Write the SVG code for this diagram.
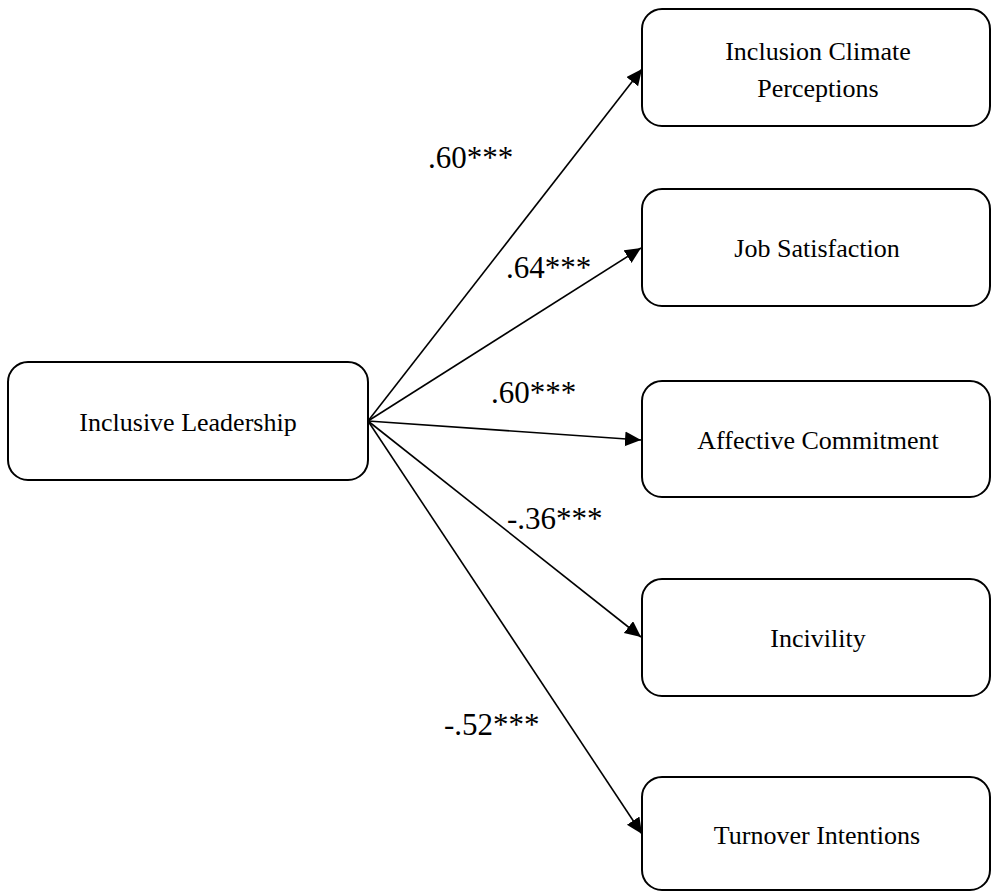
<svg xmlns="http://www.w3.org/2000/svg" width="992" height="892" viewBox="0 0 992 892">
<style>
.box{fill:#fff;stroke:#000;stroke-width:2}
.t{font-family:"Liberation Serif","Times New Roman",serif;font-size:26px;fill:#000;text-anchor:middle}
.lbl{font-family:"Liberation Serif","Times New Roman",serif;font-size:31px;fill:#000}
.edge{stroke:#000;stroke-width:1.6;fill:none;marker-end:url(#ah)}
</style>
<defs>
<marker id="ah" markerUnits="userSpaceOnUse" markerWidth="17" markerHeight="16" refX="16" refY="7.5" orient="auto">
<path d="M0,0 L16,7.5 L0,15 z" fill="#000"/>
</marker>
</defs>
<rect width="992" height="892" fill="#fff"/>
<g id="connectors">
<line class="edge" x1="368" y1="421" x2="642" y2="69"/>
<line class="edge" x1="368" y1="421" x2="641" y2="248"/>
<line class="edge" x1="368" y1="421" x2="641" y2="440"/>
<line class="edge" x1="368" y1="421" x2="641" y2="637"/>
<line class="edge" x1="368" y1="421" x2="642" y2="834"/>
</g>
<g id="labels">
<text class="lbl" x="428" y="168">.60***</text>
<text class="lbl" x="506" y="278">.64***</text>
<text class="lbl" x="491" y="403">.60***</text>
<text class="lbl" x="507" y="529">-.36***</text>
<text class="lbl" x="444" y="735">-.52***</text>
</g>
<g id="inclusive-leadership">
<rect class="box" x="8" y="362" width="360" height="118" rx="20"/>
<text class="t" x="188" y="431">Inclusive Leadership</text>
</g>
<g id="inclusion-climate">
<rect class="box" x="642" y="9" width="348" height="117" rx="20"/>
<text class="t" x="818" y="60">Inclusion Climate</text>
<text class="t" x="818" y="97">Perceptions</text>
</g>
<g id="job-satisfaction">
<rect class="box" x="642" y="189" width="348" height="117" rx="20"/>
<text class="t" x="817" y="257">Job Satisfaction</text>
</g>
<g id="affective-commitment">
<rect class="box" x="642" y="381" width="348" height="116" rx="20"/>
<text class="t" x="818" y="449">Affective Commitment</text>
</g>
<g id="incivility">
<rect class="box" x="642" y="579" width="348" height="117" rx="20"/>
<text class="t" x="818" y="647">Incivility</text>
</g>
<g id="turnover-intentions">
<rect class="box" x="642" y="777" width="348" height="113" rx="20"/>
<text class="t" x="817" y="844">Turnover Intentions</text>
</g>
</svg>
